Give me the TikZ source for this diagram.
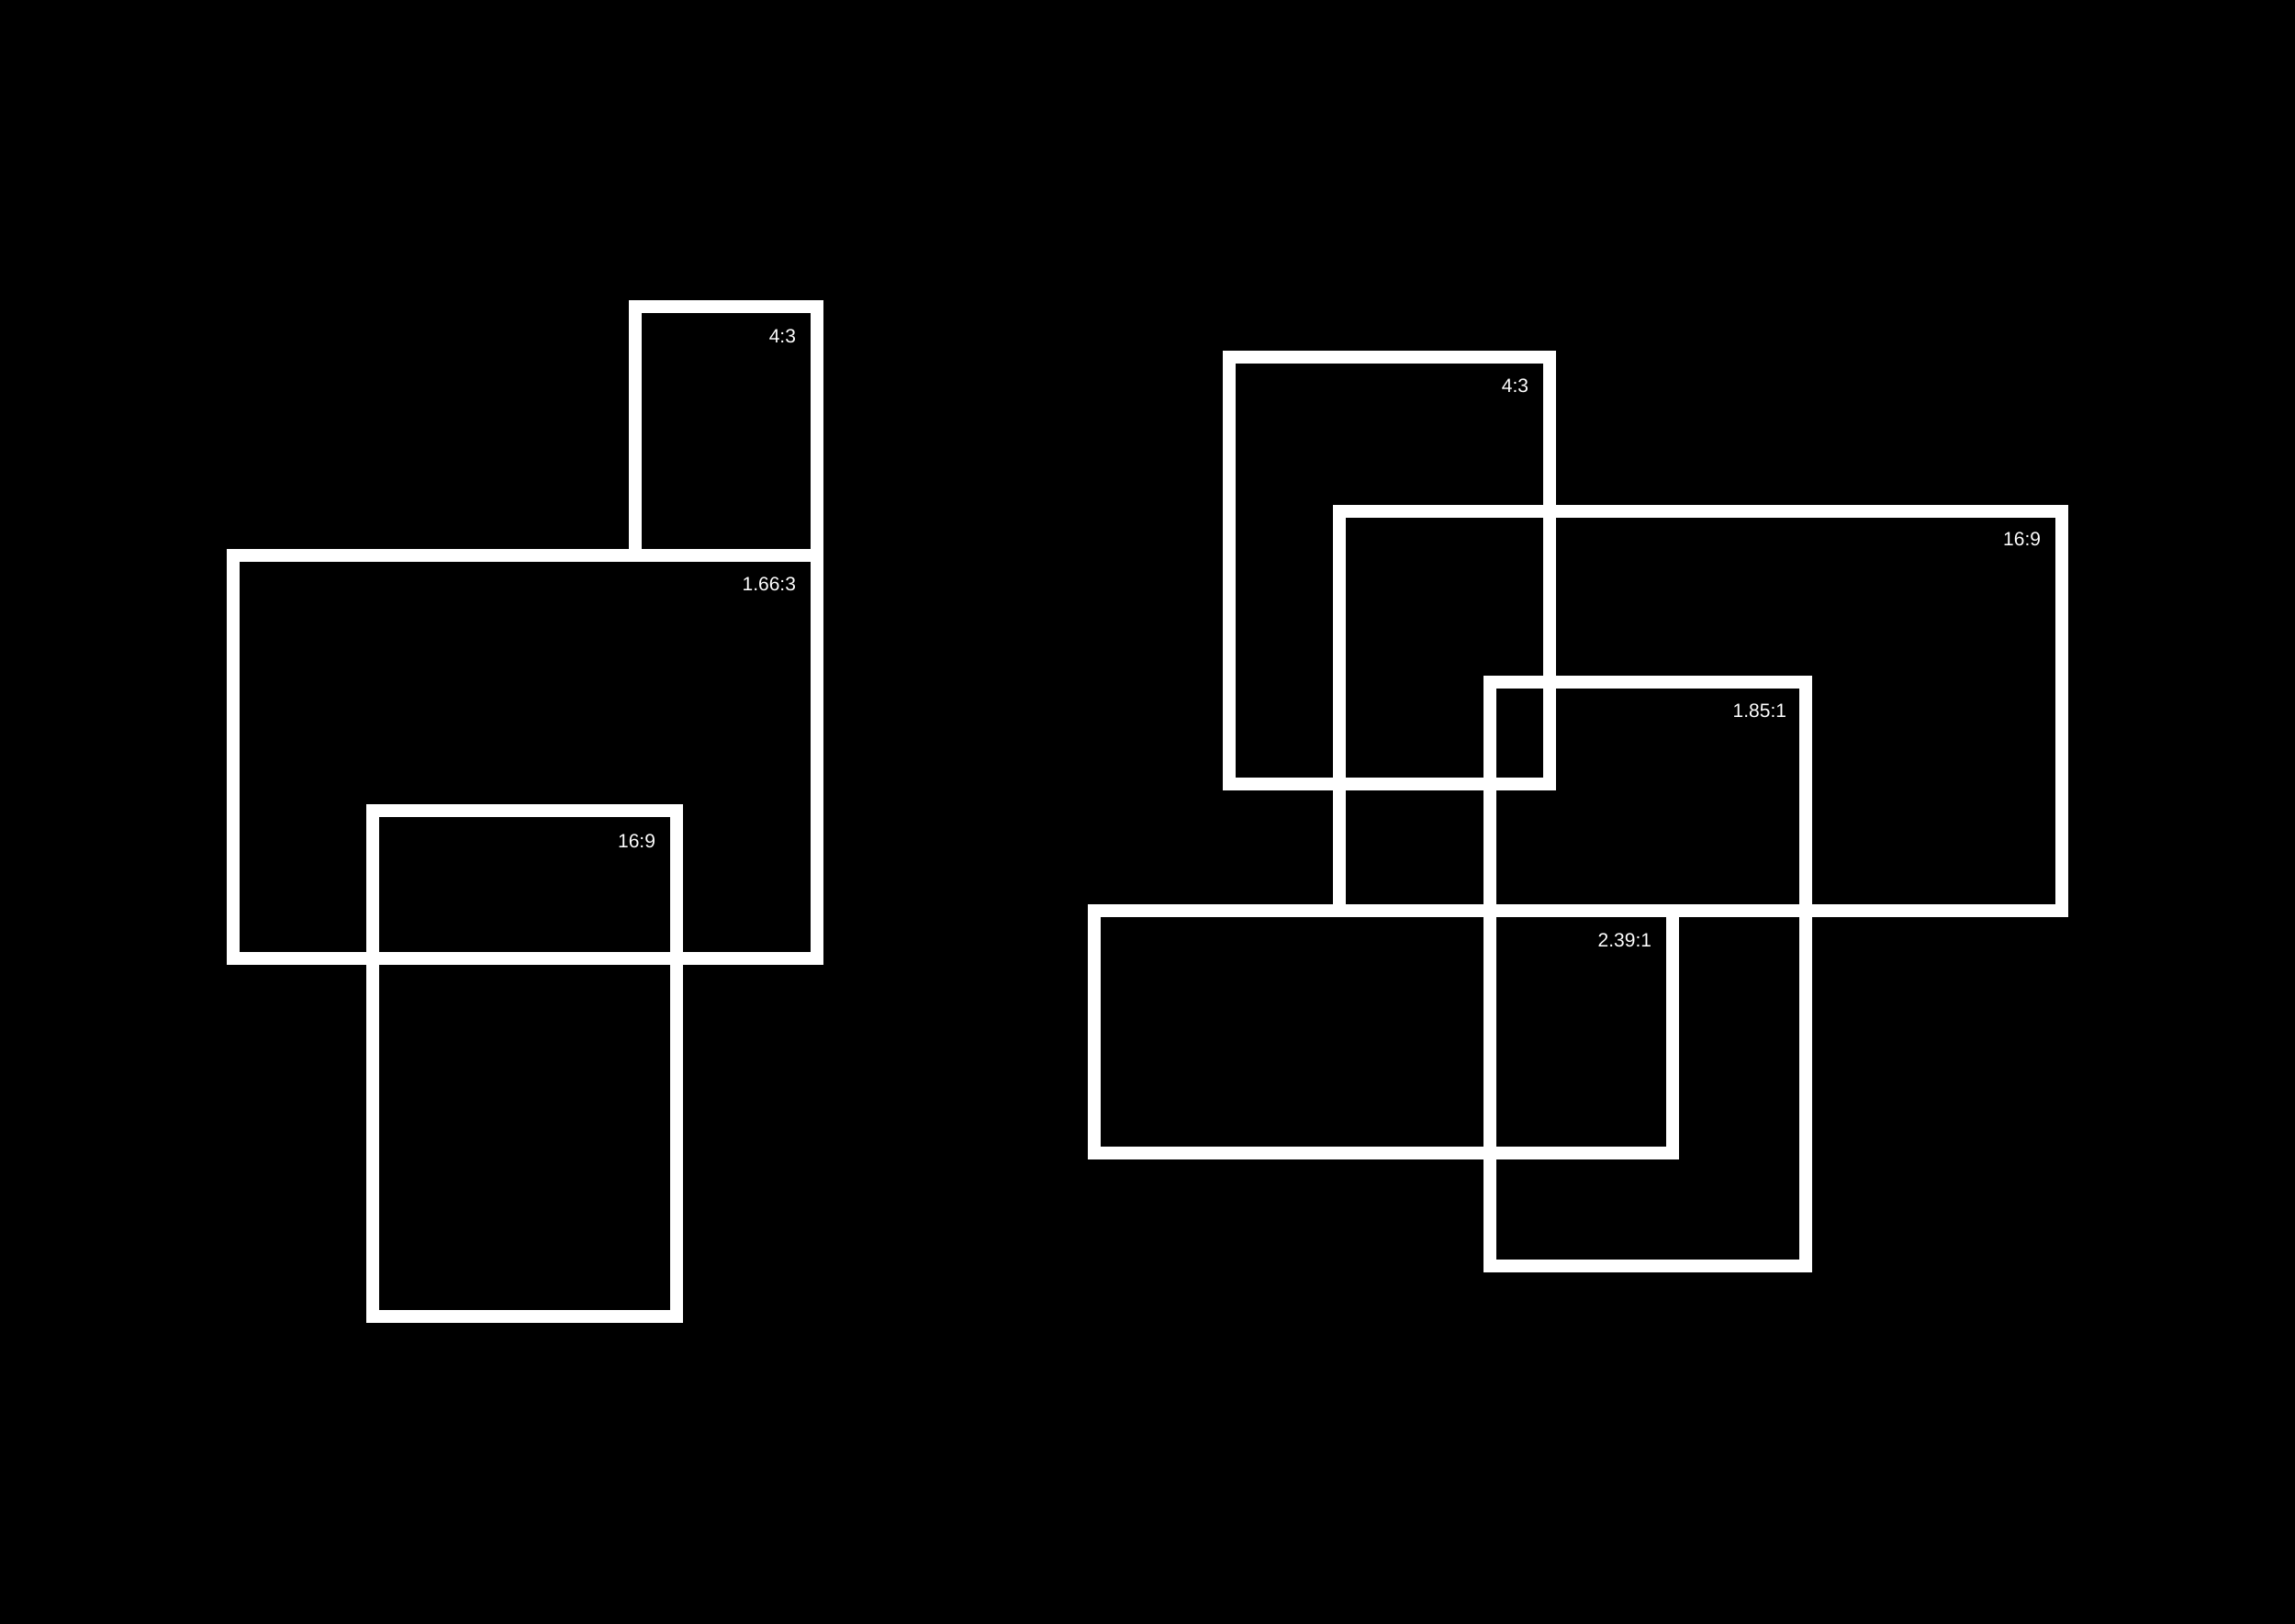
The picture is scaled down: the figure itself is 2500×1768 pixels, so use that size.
\documentclass[tikz,border=0pt]{standalone}
\usepackage{fontspec}
\setmainfont{Liberation Sans}
\tikzset{
  frame/.style={draw=white, line width=0.14cm, line join=miter},
  ratiolabel/.style={text=white, inner sep=0pt, outer sep=0pt, anchor=north east,
    font=\fontsize{5.97}{7}\selectfont}
}
\begin{document}
\begin{tikzpicture}[x=0.01cm, y=-0.01cm]
  \useasboundingbox (0,0) rectangle (2500,1768);
  \fill[black] (-10,-10) rectangle (2510,1778);
  % left group
  \draw[frame] (691.5,334) rectangle (890,605);
  \draw[frame] (254,605) rectangle (890,1044);
  \draw[frame] (406,883) rectangle (737,1434);
  \node[ratiolabel] (lA) at (867,359) {4:3};
  \node[ratiolabel] (lB) at (867,629) {1.66:3};
  \node[ratiolabel] (lC) at (714,909) {16:9};
  % right group
  \draw[frame] (1338.7,388.7) rectangle (1688,854);
  \draw[frame] (1459,557) rectangle (2245.5,992);
  \draw[frame] (1623,743) rectangle (1967,1379);
  \draw[frame] (1191.5,992) rectangle (1822,1256);
  \node[ratiolabel] (lD) at (1665,413) {4:3};
  \node[ratiolabel] (lE) at (2223,580) {16:9};
  \node[ratiolabel] (lF) at (1946,767) {1.85:1};
  \node[ratiolabel] (lG) at (1799,1017) {2.39:1};
\end{tikzpicture}
\end{document}
